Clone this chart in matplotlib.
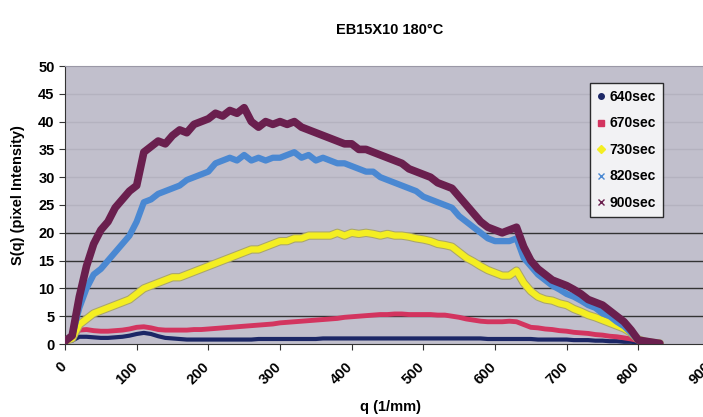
import matplotlib
matplotlib.use("Agg")
import matplotlib.pyplot as plt
import matplotlib.patheffects as pe
import matplotlib.transforms as mtransforms
from matplotlib.lines import Line2D

plt.rcParams["font.family"] = ["Liberation Sans", "DejaVu Sans"]
plt.rcParams["font.weight"] = "bold"

# q positions (1/mm), every 10 from 0 to 830
q = list(range(0, 840, 10))

s640 = [0.5, 0.6, 1.3, 1.3, 1.2, 1.1, 1.1, 1.2, 1.3, 1.5,
        1.8, 2.0, 1.8, 1.4, 1.1, 1.0, 0.9, 0.8, 0.8, 0.8,
        0.8, 0.8, 0.8, 0.8, 0.8, 0.8, 0.8, 0.9, 0.9, 0.9,
        0.9, 0.9, 0.9, 0.9, 0.9, 0.9, 1.0, 1.0, 1.0, 1.0,
        1.0, 1.0, 1.0, 1.0, 1.0, 1.0, 1.0, 1.0, 1.0, 1.0,
        1.0, 1.0, 1.0, 1.0, 1.0, 1.0, 1.0, 1.0, 1.0, 0.9,
        0.9, 0.9, 0.9, 0.9, 0.9, 0.9, 0.8, 0.8, 0.8, 0.8,
        0.8, 0.7, 0.7, 0.7, 0.6, 0.6, 0.5, 0.5, 0.4, 0.4,
        0.3, 0.2, 0.1, 0.1]

s670 = [0.5, 1.2, 2.5, 2.6, 2.4, 2.3, 2.3, 2.4, 2.5, 2.7,
        3.0, 3.1, 2.9, 2.6, 2.5, 2.5, 2.5, 2.5, 2.6, 2.6,
        2.7, 2.8, 2.9, 3.0, 3.1, 3.2, 3.3, 3.4, 3.5, 3.6,
        3.8, 3.9, 4.0, 4.1, 4.2, 4.3, 4.4, 4.5, 4.6, 4.8,
        4.9, 5.0, 5.1, 5.2, 5.3, 5.3, 5.4, 5.4, 5.3, 5.3,
        5.3, 5.3, 5.2, 5.2, 5.0, 4.8, 4.5, 4.3, 4.1, 4.0,
        4.0, 4.0, 4.1, 4.0, 3.5, 3.0, 2.9, 2.7, 2.6, 2.4,
        2.3, 2.1, 2.0, 1.9, 1.7, 1.6, 1.4, 1.3, 1.1, 0.9,
        0.6, 0.4, 0.2, 0.1]

s730 = [0.5, 1.0, 3.5, 4.5, 5.5, 6.0, 6.5, 7.0, 7.5, 8.0,
        9.0, 10.0, 10.5, 11.0, 11.5, 12.0, 12.0, 12.5, 13.0, 13.5,
        14.0, 14.5, 15.0, 15.5, 16.0, 16.5, 17.0, 17.0, 17.5, 18.0,
        18.5, 18.5, 19.0, 19.0, 19.5, 19.5, 19.5, 19.5, 20.0, 19.5,
        20.0, 19.8, 20.0, 19.8, 19.5, 19.8, 19.5, 19.5, 19.3, 19.0,
        18.8, 18.5, 18.0, 17.8, 17.5, 16.5, 15.5, 14.8, 14.0, 13.3,
        12.8, 12.3, 12.3, 13.2, 11.0, 9.5, 8.5, 8.0, 7.8, 7.3,
        7.0, 6.3, 5.8, 5.2, 4.8, 4.3, 3.8, 3.3, 2.8, 2.0,
        0.8, 0.4, 0.2, 0.1]

s820 = [0.5, 1.5, 6.5, 10.0, 12.5, 13.5, 15.0, 16.5, 18.0, 19.5,
        22.0, 25.5, 26.0, 27.0, 27.5, 28.0, 28.5, 29.5, 30.0, 30.5,
        31.0, 32.5, 33.0, 33.5, 33.0, 34.0, 33.0, 33.5, 33.0, 33.5,
        33.5, 34.0, 34.5, 33.5, 34.0, 33.0, 33.5, 33.0, 32.5, 32.5,
        32.0, 31.5, 31.0, 31.0, 30.0, 29.5, 29.0, 28.5, 28.0, 27.5,
        26.5, 26.0, 25.5, 25.0, 24.5, 23.0, 22.0, 21.0, 20.0, 19.0,
        18.5, 18.5, 18.5, 19.0, 15.5, 14.0, 12.5, 11.5, 10.5, 9.8,
        9.0, 8.5, 7.8, 7.0, 6.5, 5.5, 5.0, 4.0, 3.2, 2.0,
        0.7, 0.4, 0.2, 0.1]

s900 = [0.5, 1.5, 8.5, 14.0, 18.0, 20.5, 22.0, 24.5, 26.0, 27.5,
        28.5, 34.5, 35.5, 36.5, 36.0, 37.5, 38.5, 38.0, 39.5, 40.0,
        40.5, 41.5, 41.0, 42.0, 41.5, 42.5, 40.0, 39.0, 40.0, 39.5,
        40.0, 39.5, 40.0, 39.0, 38.5, 38.0, 37.5, 37.0, 36.5, 36.0,
        36.0, 35.0, 35.0, 34.5, 34.0, 33.5, 33.0, 32.5, 31.5, 31.0,
        30.5, 30.0, 29.0, 28.5, 28.0, 26.5, 25.0, 23.5, 22.0, 21.0,
        20.5, 20.0, 20.5, 21.0, 17.5, 15.0, 13.5, 12.5, 11.5, 11.0,
        10.5, 9.8, 9.0, 8.0, 7.5, 7.0, 6.0, 5.0, 4.0, 2.5,
        0.7, 0.5, 0.3, 0.1]

labels = ["640sec", "670sec", "730sec", "820sec", "900sec"]
colors = ["#1c2766", "#d3345f", "#f4ee22", "#4a88d2", "#6a1f4e"]
markers = ["o", "s", "D", "x", "x"]
series = [s640, s670, s730, s820, s900]
widths = [3, 3.5, 4.5, 4.5, 5.5]

fig = plt.figure(figsize=(7.03, 4.17), dpi=100)
ax = fig.add_axes([65 / 703, 1 - 344 / 417, 645 / 703, 278 / 417])
ax.set_facecolor("#c1bfcc")

for vals, c, lw in zip(series, colors, widths):
    line, = ax.plot(q, vals, color=c, lw=lw, solid_joinstyle="round",
                    solid_capstyle="round", zorder=3)
    if c == "#f4ee22":
        line.set_path_effects([pe.Stroke(linewidth=lw + 1.5, foreground="#a9a56c"), pe.Normal()])

ax.set_xlim(0, 900)
ax.set_ylim(0, 50)
ax.set_xticks(range(0, 1000, 100))
ax.set_yticks(range(0, 55, 5))
for y in range(5, 50, 5):
    ax.axhline(y, color="#333333" if y <= 20 else "#b4b2bf", lw=1, zorder=1)

ax.tick_params(axis="both", labelsize=10.5, length=4, color="#333333", direction="out")
shift = mtransforms.ScaledTranslation(-0.06, -0.05, fig.dpi_scale_trans)
for lab in ax.get_xticklabels():
    lab.set_rotation(45)
    lab.set_ha("right")
    lab.set_rotation_mode("anchor")
    lab.set_fontweight("bold")
    lab.set_transform(lab.get_transform() + shift)
for lab in ax.get_yticklabels():
    lab.set_fontweight("bold")

for side in ["top", "right"]:
    ax.spines[side].set_color("#9a98a6")
ax.spines["left"].set_color("#333333")
ax.spines["bottom"].set_color("#333333")

fig.text(390 / 703, 1 - 30 / 417, "EB15X10 180\u00b0C", ha="center", va="center",
         fontsize=10.5, fontweight="bold")
fig.text(390 / 703, 1 - 407 / 417, "q (1/mm)", ha="center", va="center",
         fontsize=10.5, fontweight="bold")
fig.text(18 / 703, 1 - 195 / 417, "S(q) (pixel Intensity)", ha="center", va="center",
         rotation=90, fontsize=10.5, fontweight="bold")

handles = [Line2D([], [], color=c, marker=m, ls="none", ms=4, mew=1)
           for c, m in zip(colors, markers)]
leg = ax.legend(handles, labels, loc="upper left", bbox_to_anchor=(590 / 703, 1 - 83 / 417),
                bbox_transform=fig.transFigure, borderaxespad=0, frameon=True, fancybox=False,
                handlelength=0.6, handletextpad=0.3, labelspacing=0.9,
                borderpad=0.5, prop={"size": 10, "weight": "bold"})
leg.get_frame().set_edgecolor("black")
leg.get_frame().set_linewidth(1)
leg.get_frame().set_facecolor("white")

fig.savefig("out.png", dpi=100)
